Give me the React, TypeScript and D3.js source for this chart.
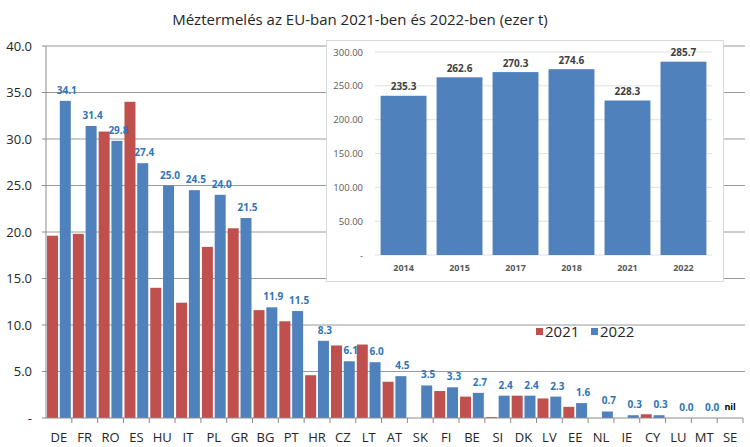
import React from "react";
import * as d3 from "d3";

const countries = ["DE","FR","RO","ES","HU","IT","PL","GR","BG","PT","HR","CZ","LT","AT","SK","FI","BE","SI","DK","LV","EE","NL","IE","CY","LU","MT","SE"];
const values2021 = [19.6,19.8,30.8,34.0,14.0,12.4,18.4,20.4,11.6,10.4,4.6,7.8,7.9,3.9,0,2.9,2.3,0.1,2.4,2.1,1.2,0,0,0.4,0,0,0];
const values2022 = [34.1,31.4,29.8,27.4,25.0,24.5,24.0,21.5,11.9,11.5,8.3,6.1,6.0,4.5,3.5,3.3,2.7,2.4,2.4,2.3,1.6,0.7,0.3,0.3,0.0,0.0,null];
const yTicks = [0,5,10,15,20,25,30,35,40];

const insetYears = ["2014","2015","2017","2018","2021","2022"];
const insetValues = [235.3,262.6,270.3,274.6,228.3,285.7];
const insetTicks = [0,50,100,150,200,250,300];

const RED = "#C0504D";
const BLUE = "#4F81BD";
const FONT = "'Open Sans', 'Noto Sans', sans-serif";

export default function App() {
  const W = 750, H = 447;
  const x = d3.scaleBand<string>().domain(countries).range([46, 743]).padding(0);
  const inner = d3.scaleBand<string>().domain(["2021","2022"]).range([0, x.bandwidth()]).paddingInner(0.14).paddingOuter(0.08);
  const y = d3.scaleLinear().domain([0, 40]).range([418, 46]);

  const ix = d3.scaleBand<string>().domain(insetYears).range([375, 712]).paddingInner(0.18).paddingOuter(0.1);
  const iy = d3.scaleLinear().domain([0, 300]).range([255, 52]);

  return (
    <div style={{ position: "absolute", left: 0, top: 0 }}>
      <svg width={W} height={H} style={{ display: "block", background: "#fff" }} fontFamily={FONT}>
        <text x={360} y={25} textAnchor="middle" fontSize={15} fill="#262626">
          Méztermelés az EU-ban 2021-ben és 2022-ben (ezer t)
        </text>
        {/* grid */}
        {yTicks.map((t) => (
          <g key={"g" + t}>
            {t > 0 && <line x1={46} x2={745} y1={y(t)} y2={y(t)} stroke="#9a9a9a" strokeWidth={1} />}
            <line x1={42} x2={46} y1={y(t)} y2={y(t)} stroke="#8a8a8a" />
            <text x={32} y={y(t) + 4.5} textAnchor="end" fontSize={13} fill="#262626">
              {t === 0 ? "-" : t.toFixed(1)}
            </text>
          </g>
        ))}
        <line x1={46} x2={46} y1={46} y2={418} stroke="#8a8a8a" />
        {/* bars */}
        {countries.map((c, i) => {
          const x0 = x(c)!;
          const v1 = values2021[i];
          const v2 = values2022[i];
          return (
            <g key={c}>
              {v1 > 0 && (
                <rect x={x0 + inner("2021")!} y={y(v1)} width={inner.bandwidth()} height={y(0) - y(v1)} fill={RED} />
              )}
              {v2 != null && v2 > 0 && (
                <rect x={x0 + inner("2022")!} y={y(v2)} width={inner.bandwidth()} height={y(0) - y(v2)} fill={BLUE} />
              )}
            </g>
          );
        })}
        {/* x axis */}
        <line x1={46} x2={743} y1={418} y2={418} stroke="#8a8a8a" />
        {countries.map((c) => (
          <line key={"t" + c} x1={x(c)! + x.bandwidth()} x2={x(c)! + x.bandwidth()} y1={418} y2={423} stroke="#8a8a8a" />
        ))}
        {countries.map((c) => (
          <text key={"l" + c} x={x(c)! + x.bandwidth() / 2} y={442} textAnchor="middle" fontSize={13} fill="#262626">
            {c}
          </text>
        ))}
        {/* value labels */}
        {countries.map((c, i) => {
          const v2 = values2022[i];
          const cx = x(c)! + inner("2022")! + inner.bandwidth() / 2 + 1.5;
          if (v2 == null) {
            return (
              <text key={"v" + c} x={x(c)! + x.bandwidth() / 2} y={410} textAnchor="middle" fontSize={9} fontWeight="bold" fill="#000">
                nil
              </text>
            );
          }
          return (
            <text key={"v" + c} x={cx} y={y(v2) - 7} textAnchor="middle" fontSize={10} fontWeight="bold" fill="#2E75B6">
              {v2.toFixed(1)}
            </text>
          );
        })}
        {/* legend */}
        <rect x={536} y={328} width={7} height={7} fill={RED} />
        <text x={545} y={337} fontSize={15} fill="#262626">2021</text>
        <rect x={591} y={328} width={7} height={7} fill={BLUE} />
        <text x={600} y={337} fontSize={15} fill="#262626">2022</text>
        {/* inset */}
        <rect x={326.5} y={40.5} width={397} height={241} fill="#fff" stroke="#d9d9d9" />
        {insetTicks.map((t) => (
          <g key={"it" + t}>
            <line x1={375} x2={712} y1={iy(t)} y2={iy(t)} stroke="#e0e0e0" />
            <text x={363} y={iy(t) + 3.5} textAnchor="end" fontSize={9.5} fill="#595959">
              {t === 0 ? "-" : t.toFixed(2)}
            </text>
          </g>
        ))}
        {insetYears.map((yr, i) => (
          <g key={yr}>
            <rect x={ix(yr)!} y={iy(insetValues[i])} width={ix.bandwidth()} height={iy(0) - iy(insetValues[i])} fill={BLUE} />
            <text x={ix(yr)! + ix.bandwidth() / 2} y={iy(insetValues[i]) - 5.5} textAnchor="middle" fontSize={10} fontWeight="bold" fill="#404040">
              {insetValues[i].toFixed(1)}
            </text>
            <text x={ix(yr)! + ix.bandwidth() / 2} y={271} textAnchor="middle" fontSize={9} fontWeight="bold" fill="#595959">
              {yr}
            </text>
          </g>
        ))}
      </svg>
    </div>
  );
}
